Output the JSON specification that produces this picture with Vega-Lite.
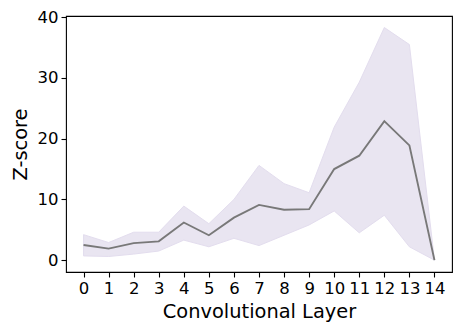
{
  "$schema": "https://vega.github.io/schema/vega-lite/v6.json",
  "autosize": "none",
  "width": 386,
  "height": 256,
  "padding": {"left": 66, "top": 16, "right": 10, "bottom": 62},
  "background": "white",
  "config": {
    "font": "DejaVu Sans",
    "view": {"stroke": "black", "strokeWidth": 1.1},
    "axis": {
      "grid": false,
      "domain": false,
      "tickColor": "black",
      "tickSize": 5,
      "tickWidth": 1.1,
      "labelFont": "DejaVu Sans",
      "labelFontSize": 16.5,
      "labelColor": "black",
      "titleFont": "DejaVu Sans",
      "titleFontSize": 19.4,
      "titleFontWeight": "normal",
      "titleColor": "black",
      "labelPadding": 3
    }
  },
  "data": {
    "values": [
      {"layer": 0, "mean": 2.5, "lo": 0.7, "hi": 4.2},
      {"layer": 1, "mean": 1.9, "lo": 0.6, "hi": 2.9},
      {"layer": 2, "mean": 2.8, "lo": 1.0, "hi": 4.6},
      {"layer": 3, "mean": 3.1, "lo": 1.5, "hi": 4.6},
      {"layer": 4, "mean": 6.2, "lo": 3.3, "hi": 8.9},
      {"layer": 5, "mean": 4.1, "lo": 2.2, "hi": 6.0},
      {"layer": 6, "mean": 7.0, "lo": 3.6, "hi": 10.0},
      {"layer": 7, "mean": 9.1, "lo": 2.4, "hi": 15.6},
      {"layer": 8, "mean": 8.3, "lo": 4.1, "hi": 12.6},
      {"layer": 9, "mean": 8.4, "lo": 5.8, "hi": 11.1},
      {"layer": 10, "mean": 15.0, "lo": 8.1, "hi": 21.9},
      {"layer": 11, "mean": 17.2, "lo": 4.5, "hi": 29.3},
      {"layer": 12, "mean": 22.9, "lo": 7.4, "hi": 38.3},
      {"layer": 13, "mean": 18.9, "lo": 2.2, "hi": 35.5},
      {"layer": 14, "mean": 0.0, "lo": 0.0, "hi": 0.0}
    ]
  },
  "encoding": {
    "x": {
      "field": "layer",
      "type": "quantitative",
      "scale": {"domain": [-0.7, 14.7], "nice": false, "zero": false},
      "axis": {"values": [0,1,2,3,4,5,6,7,8,9,10,11,12,13,14], "title": "Convolutional Layer", "titlePadding": 6, "format": "d"}
    }
  },
  "layer": [
    {
      "mark": {"type": "area", "fill": "#e9e5f1", "fillOpacity": 1, "opacity": 1, "stroke": "#e3ddee", "strokeWidth": 1},
      "encoding": {
        "y": {"field": "lo", "type": "quantitative"},
        "y2": {"field": "hi"}
      }
    },
    {
      "mark": {"type": "line", "color": "#787878", "strokeWidth": 1.9},
      "encoding": {
        "y": {
          "field": "mean",
          "type": "quantitative",
          "scale": {"domain": [-1.95, 40.2], "nice": false, "zero": false},
          "axis": {"values": [0, 10, 20, 30, 40], "title": "Z-score", "titlePadding": 7}
        }
      }
    }
  ]
}
